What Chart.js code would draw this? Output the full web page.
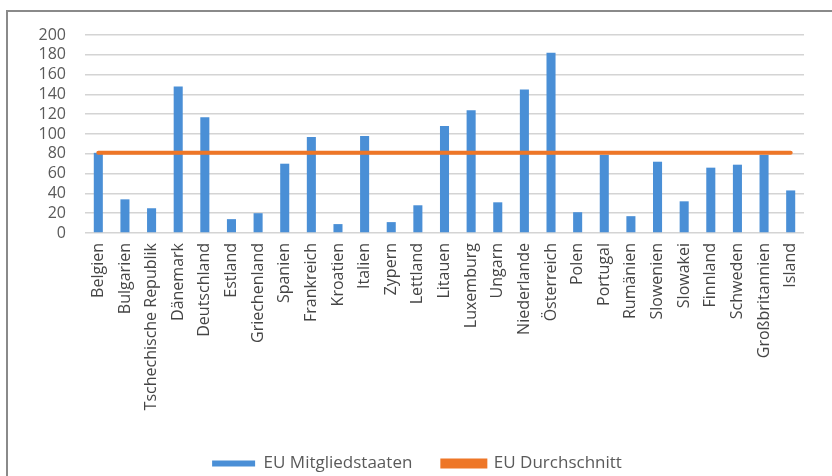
<!DOCTYPE html>
<html lang="de">
<head>
<meta charset="utf-8">
<title>EU Mitgliedstaaten</title>
<script src="https://cdn.jsdelivr.net/npm/chart.js@4.4.1/dist/chart.umd.min.js"></script>
<style>
    html, body { margin: 0; padding: 0; background: #ffffff; }
    #wrap { position: relative; width: 832px; height: 476px; overflow: hidden; }
    #frame {
        position: absolute; left: 6px; top: 10px; width: 900px; height: 600px;
        border-top: 2px solid #8a8a8a; border-left: 2px solid #8a8a8a;
    }
    #chart { position: absolute; left: 0; top: 0; }
</style>
</head>
<body>
<div id="wrap">
    <div id="frame"></div>
    <canvas id="chart" width="832" height="476"></canvas>
</div>
<script>
// Colors
const BAR_BLUE = '#4a8fd6';
const LINE_ORANGE = '#ee7627';
const GRID_GREY = '#d4d4d4';
const TEXT_GREY = '#5a5a5a';

// Data
const countries = [
    'Belgien', 'Bulgarien', 'Tschechische Republik', 'Dänemark', 'Deutschland',
    'Estland', 'Griechenland', 'Spanien', 'Frankreich', 'Kroatien', 'Italien',
    'Zypern', 'Lettland', 'Litauen', 'Luxemburg', 'Ungarn', 'Niederlande',
    'Österreich', 'Polen', 'Portugal', 'Rumänien', 'Slowenien', 'Slowakei',
    'Finnland', 'Schweden', 'Großbritannien', 'Island'
];
const memberValues = [
    81, 34, 25, 148, 117, 14, 20, 70, 97, 9, 98,
    11, 28, 108, 124, 31, 145, 182, 21, 79, 17, 72, 32,
    66, 69, 79, 43
];
const euAverage = countries.map(() => 81);
const yTicks = [0, 20, 40, 60, 80, 100, 120, 140, 160, 180, 200];

function createChart() {
    const ctx = document.getElementById('chart').getContext('2d');

    return new Chart(ctx, {
        data: {
            labels: countries,
            datasets: [{
                type: 'line',
                label: 'EU Durchschnitt',
                data: euAverage,
                borderColor: LINE_ORANGE,
                backgroundColor: LINE_ORANGE,
                borderWidth: 4,
                borderCapStyle: 'round',
                pointRadius: 0,
                fill: false,
                order: 0
            }, {
                type: 'bar',
                label: 'EU Mitgliedstaaten',
                data: memberValues,
                backgroundColor: BAR_BLUE,
                borderWidth: 0,
                barPercentage: 0.34,
                categoryPercentage: 1,
                order: 1
            }]
        },
        options: {
            responsive: false,
            animation: false,
            layout: {
                padding: { left: 30, right: 28, top: 35, bottom: -6 }
            },
            plugins: {
                title: { display: false },
                tooltip: { enabled: false },
                legend: {
                    position: 'bottom',
                    reverse: true,
                    labels: {
                        boxWidth: 43,
                        boxHeight: 6,
                        padding: 30,
                        color: TEXT_GREY,
                        font: { family: 'Open Sans', size: 17 }
                    }
                }
            },
            scales: {
                x: {
                    offset: true,
                    grid: { display: false, drawTicks: false },
                    border: { display: false },
                    ticks: {
                        autoSkip: false,
                        minRotation: 90,
                        maxRotation: 90,
                        padding: 10,
                        color: '#454545',
                        font: { family: 'Open Sans', size: 16 }
                    },
                    afterFit: (scale) => { scale.height = 192; }
                },
                y: {
                    min: 0,
                    max: 200,
                    afterBuildTicks: (scale) => {
                        scale.ticks = yTicks.map(v => ({ value: v }));
                    },
                    grid: { color: GRID_GREY, lineWidth: 1.5, drawTicks: false },
                    border: { display: false },
                    ticks: {
                        autoSkip: false,
                        padding: 19,
                        color: TEXT_GREY,
                        font: { family: 'Open Sans', size: 16 }
                    },
                    afterFit: (scale) => { scale.width = 55; }
                }
            }
        }
    });
}

document.addEventListener('DOMContentLoaded', createChart);
</script>
</body>
</html>
